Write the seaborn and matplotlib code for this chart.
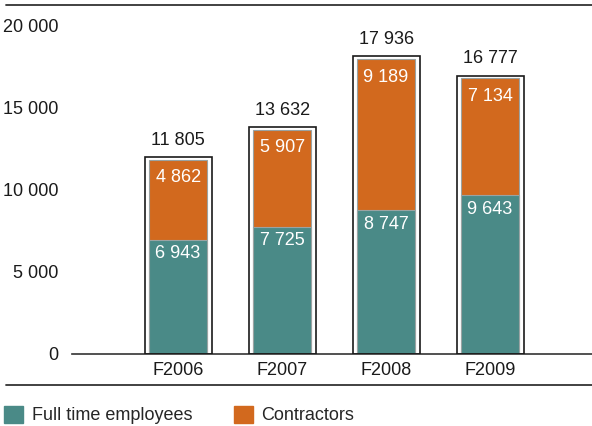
import matplotlib
matplotlib.use("Agg")
import matplotlib.pyplot as plt
import seaborn as sns
import numpy as np
import pandas as pd

years = ["F2006", "F2007", "F2008", "F2009"]
full_time = [6943, 7725, 8747, 9643]
contractors = [4862, 5907, 9189, 7134]
totals = [11805, 13632, 17936, 16777]
y_ticks = [0, 5000, 10000, 15000, 20000]

TEAL = "#4a8a87"
ORANGE = "#d2691e"

sns.set_theme(style="white")
plt.rcParams["font.family"] = ["Liberation Sans Narrow", "Liberation Sans", "DejaVu Sans"]

df = pd.DataFrame({"year": years, "fte": full_time, "con": contractors, "total": totals})

fig = plt.figure(figsize=(5.92, 4.26), dpi=100)
ax = fig.add_axes([72 / 592, 1 - 354 / 426, 1 - 72 / 592, 329 / 426])

# stacked bars: total height in orange, full-time part drawn over it in teal
sns.barplot(data=df, x="year", y="total", color=ORANGE, width=0.55, ax=ax,
            saturation=1, edgecolor="#9aa3a3", linewidth=0.8)
sns.barplot(data=df, x="year", y="fte", color=TEAL, width=0.55, ax=ax,
            saturation=1, edgecolor="#9aa3a3", linewidth=0.8)

# outline frame around each stack
xs = np.arange(len(years))
ax.bar(xs, np.array(totals) + 150, width=0.645, fill=False,
       edgecolor="#1a1a1a", linewidth=1.2, zorder=3)

FS = 13
for x, f, c, t in zip(xs, full_time, contractors, totals):
    ax.annotate(f"{t:,}".replace(",", " "), (x, t), xytext=(0, 8),
                textcoords="offset points", ha="center", va="bottom",
                fontsize=FS, color="#1a1a1a")
    ax.annotate(f"{c:,}".replace(",", " "), (x, t), xytext=(0, -13),
                textcoords="offset points", ha="center", va="center",
                fontsize=FS, color="white")
    ax.annotate(f"{f:,}".replace(",", " "), (x, f), xytext=(0, -10),
                textcoords="offset points", ha="center", va="center",
                fontsize=FS, color="white")

ax.set_xlim(-1.02, 3.98)
ax.set_ylim(0, 20000)
ax.set_yticks(y_ticks)
ax.set_yticklabels([f"{v:,}".replace(",", " ") for v in y_ticks])
ax.tick_params(axis="y", length=0, pad=10, labelsize=FS, colors="#1a1a1a")
ax.tick_params(axis="x", length=0, pad=6, labelsize=FS, colors="#1a1a1a")
ax.set_xlabel("")
ax.set_ylabel("")
for s in ["top", "right", "left"]:
    ax.spines[s].set_visible(False)
ax.spines["bottom"].set_color("#333333")
ax.spines["bottom"].set_linewidth(1.2)

# horizontal rules framing the chart
fig.add_artist(plt.Line2D([6 / 592, 1], [1 - 5 / 426] * 2, color="#333333", linewidth=1.3))
fig.add_artist(plt.Line2D([6 / 592, 1], [1 - 385 / 426] * 2, color="#333333", linewidth=1.3))

# legend
handles = [plt.Rectangle((0, 0), 1, 1, color=TEAL), plt.Rectangle((0, 0), 1, 1, color=ORANGE)]
fig.legend(handles, ["Full time employees", "Contractors"], loc="center left",
           bbox_to_anchor=(0.0, 1 - 415 / 426), ncol=2, frameon=False,
           fontsize=13, handlelength=1.1, handleheight=1.1, handletextpad=0.45,
           columnspacing=2.3, borderaxespad=0, borderpad=0.2)

fig.savefig("out.png", dpi=100)
